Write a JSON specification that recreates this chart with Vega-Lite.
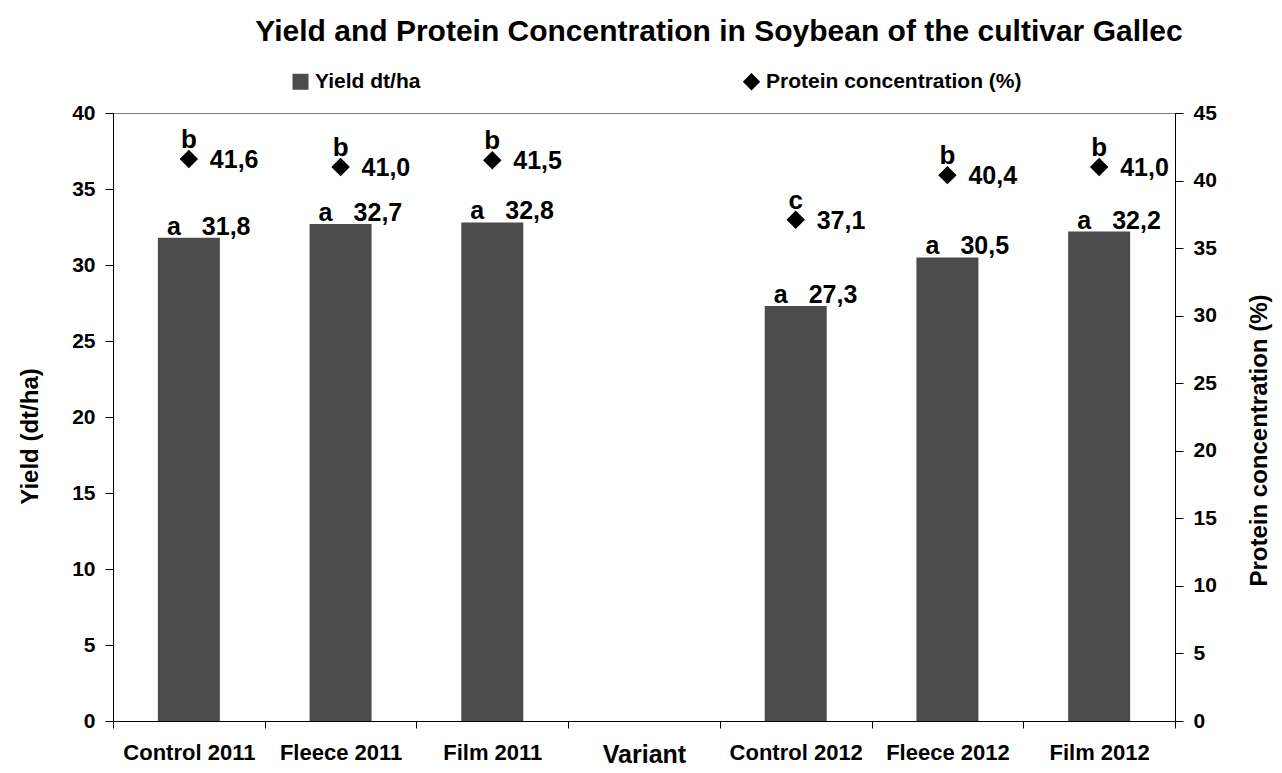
{
  "$schema": "https://vega.github.io/schema/vega-lite/v6.json",
  "width": 1062,
  "height": 608,
  "autosize": "none",
  "padding": {"left": 113, "top": 113, "right": 107, "bottom": 52},
  "background": "white",
  "config": {
    "font": "Liberation Sans",
    "view": {"stroke": "#808080", "strokeWidth": 1},
    "locale": {"number": {"decimal": ",", "thousands": ".", "grouping": [3], "currency": ["", " €"]}},
    "axis": {"labelFont": "Liberation Sans", "labelFontWeight": "bold", "labelColor": "black", "titleColor": "black", "titleFont": "Liberation Sans", "titleFontWeight": "bold", "domainColor": "black", "tickColor": "black", "grid": false, "domainWidth": 1, "tickWidth": 1}
  },
  "title": {"text": "Yield and Protein Concentration in Soybean of the cultivar Gallec", "font": "Liberation Sans", "fontSize": 30, "fontWeight": "bold", "color": "black", "anchor": "middle", "frame": "group", "dx": 75, "dy": 0, "offset": 0, "baseline": "alphabetic"},
  "data": {"values": [
    {"variant": "Control 2011", "yield": 31.8, "protein": 41.6, "yl": "a", "pl": "b"},
    {"variant": "Fleece 2011", "yield": 32.7, "protein": 41.0, "yl": "a", "pl": "b"},
    {"variant": "Film 2011", "yield": 32.8, "protein": 41.5, "yl": "a", "pl": "b"},
    {"variant": "Control 2012", "yield": 27.3, "protein": 37.1, "yl": "a", "pl": "c"},
    {"variant": "Fleece 2012", "yield": 30.5, "protein": 40.4, "yl": "a", "pl": "b"},
    {"variant": "Film 2012", "yield": 32.2, "protein": 41.0, "yl": "a", "pl": "b"}
  ]},
  "encoding": {
    "x": {
      "field": "variant", "type": "nominal", "sort": null,
      "scale": {"domain": ["Control 2011", "Fleece 2011", "Film 2011", "Variant", "Control 2012", "Fleece 2012", "Film 2012"], "paddingInner": 0, "paddingOuter": 0},
      "axis": {
        "title": null, "labelAngle": 0, "tickBand": "extent", "tickSize": 7, "labelPadding": 14,
        "labelFontSize": {"condition": {"test": "datum.value === 'Variant'", "value": 25}, "value": 22},
        "encode": {"labels": {"update": {"dy": {"signal": "datum.value === 'Variant' ? 3 : 0"}}}}
      }
    }
  },
  "layer": [
    {
      "encoding": {
        "y": {"field": "yield", "type": "quantitative", "scale": {"domain": [0, 40], "nice": false},
          "axis": {"title": "Yield (dt/ha)", "values": [0, 5, 10, 15, 20, 25, 30, 35, 40], "tickSize": 8, "labelPadding": 10, "labelFontSize": 21, "titleFontSize": 24, "titleX": -83, "titleY": 323, "titleAngle": 270, "titleBaseline": "middle", "titleAlign": "center", "labelFlush": false}}
      },
      "layer": [
        {
          "mark": {"type": "bar", "size": 62},
          "encoding": {
            "color": {"datum": "Yield dt/ha",
              "scale": {"domain": ["Yield dt/ha", "Protein concentration (%)"], "range": ["#4b4b4b", "#000000"]},
              "legend": {"title": null, "orient": "none", "legendX": 177, "legendY": -42, "direction": "horizontal", "columnPadding": 320, "labelFontSize": 21, "labelLimit": 500, "labelFontWeight": "bold", "labelColor": "black", "labelFont": "Liberation Sans", "symbolSize": 256, "symbolStrokeWidth": 0, "labelOffset": 4, "padding": 0,
                "encode": {"symbols": {"update": {"shape": {"signal": "datum.value === 'Yield dt/ha' ? 'square' : 'diamond'"}, "size": {"signal": "datum.value === 'Yield dt/ha' ? 256 : 300"}, "opacity": {"value": 1}}}}}
            }
          }
        },
        {
          "mark": {"type": "text", "dx": -15, "dy": -3, "align": "center", "baseline": "alphabetic", "fontSize": 25, "fontWeight": "bold", "color": "black"},
          "encoding": {"text": {"field": "yl"}}
        },
        {
          "mark": {"type": "text", "dx": 13, "dy": -3, "align": "left", "baseline": "alphabetic", "fontSize": 25, "fontWeight": "bold", "color": "black"},
          "encoding": {"text": {"field": "yield", "type": "quantitative", "format": ".1f"}}
        }
      ]
    },
    {
      "encoding": {
        "y": {"field": "protein", "type": "quantitative", "scale": {"domain": [0, 45], "nice": false},
          "axis": {"orient": "right", "title": "Protein concentration (%)", "values": [0, 5, 10, 15, 20, 25, 30, 35, 40, 45], "tickSize": 8, "labelPadding": 10, "labelFontSize": 21, "titleFontSize": 24, "titleX": 84, "titleY": 327, "titleAngle": 270, "titleBaseline": "middle", "titleAlign": "center", "labelFlush": false}}
      },
      "layer": [
        {
          "mark": {"type": "point", "shape": "diamond", "filled": true, "size": 340, "opacity": 1},
          "encoding": {"color": {"datum": "Protein concentration (%)"}}
        },
        {
          "mark": {"type": "text", "dy": -11, "align": "center", "baseline": "alphabetic", "fontSize": 26, "fontWeight": "bold", "color": "black"},
          "encoding": {"text": {"field": "pl"}}
        },
        {
          "mark": {"type": "text", "dx": 21, "dy": 1, "align": "left", "baseline": "middle", "fontSize": 25, "fontWeight": "bold", "color": "black"},
          "encoding": {"text": {"field": "protein", "type": "quantitative", "format": ".1f"}}
        }
      ]
    }
  ],
  "resolve": {"scale": {"y": "independent"}}
}
